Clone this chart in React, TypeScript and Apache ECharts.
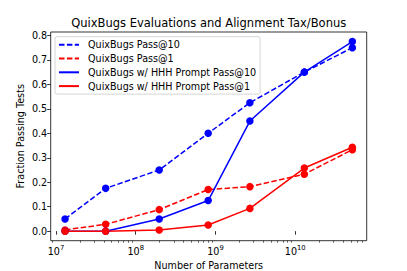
import React, { useEffect, useRef } from "react";
import * as echarts from "echarts";

const params = [13e6, 42e6, 197e6, 810e6, 2.7e9, 13e9, 52e9];
const pass10 = [0.05, 0.175, 0.25, 0.4, 0.525, 0.65, 0.75];
const pass1 = [0.005, 0.028, 0.088, 0.17, 0.182, 0.233, 0.333];
const hhhPass10 = [0.0, 0.0, 0.05, 0.125, 0.45, 0.65, 0.775];
const hhhPass1 = [0.0, 0.0, 0.005, 0.025, 0.093, 0.258, 0.343];
const seriesNames = [
  "QuixBugs Pass@10",
  "QuixBugs Pass@1",
  "QuixBugs w/ HHH Prompt Pass@10",
  "QuixBugs w/ HHH Prompt Pass@1",
];
const yTicks = [0, 0.1, 0.2, 0.3, 0.4, 0.5, 0.6, 0.7, 0.8];
const xMajorTicks = [1e7, 1e8, 1e9, 1e10];
const xTickExponents: Record<string, string> = {
  "10000000": "7",
  "100000000": "8",
  "1000000000": "9",
  "10000000000": "10",
};
const xMin = 8.59e6;
const xMax = 7.87e10;
const yMin = -0.039;
const yMax = 0.814;

const xMinorTicks: number[] = [];
for (let e = 6; e <= 10; e++) {
  for (let m = 2; m <= 9; m++) {
    const v = m * Math.pow(10, e);
    if (v > xMin && v < xMax) xMinorTicks.push(v);
  }
}

const FONT = "DejaVu Sans";
const BLUE = "#0000ff";
const RED = "#ff0000";

export default function App() {
  const ref = useRef<HTMLDivElement>(null);
  useEffect(() => {
    if (!ref.current) return;
    const chart = echarts.init(ref.current, undefined, { renderer: "svg" });
    const mk = (ys: number[]) => params.map((p, i) => [p, ys[i]]);
    const mkSeries = (name: string, ys: number[], color: string, dashed: boolean) => ({
      name,
      type: "line",
      xAxisIndex: 0,
      data: mk(ys),
      symbol: "circle",
      symbolSize: 7.5,
      color,
      itemStyle: { color },
      lineStyle: { color, width: 1.5, type: dashed ? [5.5, 2.4] : "solid" },
    });
    chart.setOption({
      animation: false,
      textStyle: { fontFamily: FONT },
      grid: {
        left: 50.7,
        right: 40.3,
        top: 32,
        bottom: 30.3,
        show: true,
        borderColor: "#000",
        borderWidth: 0.8,
        backgroundColor: "transparent",
      },
      graphic: [
        {
          type: "text",
          x: 208.7,
          y: 23,
          style: {
            text: "QuixBugs Evaluations and Alignment Tax/Bonus",
            fontFamily: FONT,
            fontSize: 11.5,
            fill: "#000",
            align: "center",
            verticalAlign: "middle",
          },
        },
        {
          type: "text",
          x: 208.7,
          y: 265.5,
          style: {
            text: "Number of Parameters",
            fontFamily: FONT,
            fontSize: 9.6,
            fill: "#000",
            align: "center",
            verticalAlign: "middle",
          },
        },
        {
          type: "text",
          x: 20.7,
          y: 136.3,
          rotation: Math.PI / 2,
          style: {
            text: "Fraction Passing Tests",
            fontFamily: FONT,
            fontSize: 9.6,
            fill: "#000",
            align: "center",
            verticalAlign: "middle",
          },
        },
      ],
      legend: {
        orient: "vertical",
        left: 55,
        top: 36.7,
        data: seriesNames,
        itemWidth: 20,
        itemHeight: 10,
        itemGap: 3.8,
        padding: [3, 4, 3, 3],
        backgroundColor: "rgba(255,255,255,0.8)",
        borderColor: "#cccccc",
        borderWidth: 0.8,
        borderRadius: 2,
        itemStyle: { opacity: 0 },
        textStyle: { fontFamily: FONT, fontSize: 9.6, color: "#000", padding: [0, 0, 0, 4] },
      },
      xAxis: [
        {
          type: "log",
          logBase: 10,
          min: xMin,
          max: xMax,
          position: "bottom",
          axisLine: { show: false },
          splitLine: { show: false },
          axisTick: {
            show: true,
            customValues: xMajorTicks,
            length: 3.5,
            lineStyle: { color: "#000", width: 0.8 },
          },
          axisLabel: {
            customValues: xMajorTicks,
            fontFamily: FONT,
            color: "#000",
            margin: 4,
            formatter: (v: number) => {
              const e = xTickExponents[String(Math.round(v))];
              return e ? `{b|10}{s|${e}}` : "";
            },
            rich: {
              b: { fontFamily: FONT, fontSize: 9.6, color: "#000" },
              s: { fontFamily: FONT, fontSize: 6.8, color: "#000", padding: [0, 0, 6, 0] },
            },
          },
        },
        {
          type: "log",
          logBase: 10,
          min: xMin,
          max: xMax,
          position: "bottom",
          offset: 0,
          axisLine: { show: false },
          splitLine: { show: false },
          axisLabel: { show: false },
          axisTick: {
            show: true,
            customValues: xMinorTicks,
            length: 2,
            lineStyle: { color: "#000", width: 0.6 },
          },
        },
      ],
      yAxis: {
        type: "value",
        min: yMin,
        max: yMax,
        axisLine: { show: false },
        splitLine: { show: false },
        axisTick: {
          show: true,
          customValues: yTicks,
          length: 3.5,
          lineStyle: { color: "#000", width: 0.8 },
        },
        axisLabel: {
          customValues: yTicks,
          fontFamily: FONT,
          fontSize: 9.6,
          color: "#000",
          margin: 3.5,
          formatter: (v: number) => v.toFixed(1),
        },
      },
      series: [
        mkSeries(seriesNames[0], pass10, BLUE, true),
        mkSeries(seriesNames[1], pass1, RED, true),
        mkSeries(seriesNames[2], hhhPass10, BLUE, false),
        mkSeries(seriesNames[3], hhhPass1, RED, false),
      ],
    });
    return () => chart.dispose();
  }, []);
  return (
    <div
      ref={ref}
      style={{ position: "fixed", left: 0, top: 0, width: 407, height: 271, background: "#fff" }}
    />
  );
}
